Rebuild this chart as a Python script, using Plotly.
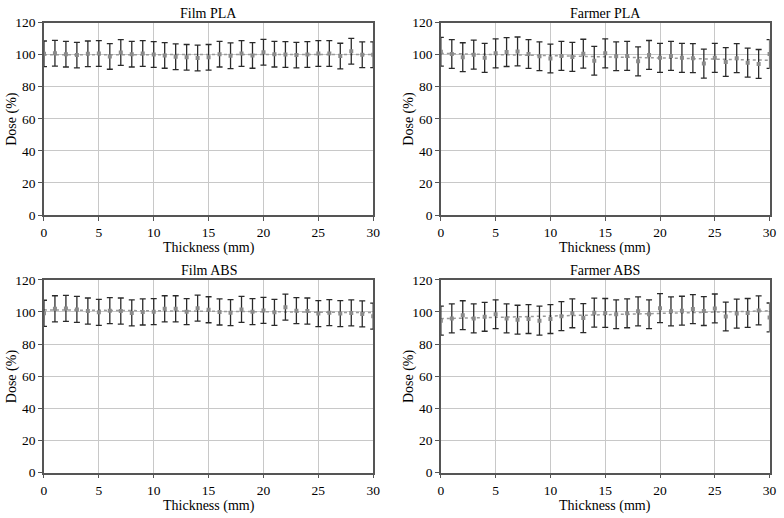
import numpy as np
import plotly.graph_objects as go

thickness = list(range(0, 31))

film_pla = [100.5, 100.9, 100.3, 99.7, 100.5, 100.7, 98.9, 101.3, 100.3, 100.7, 100.1,
            99.5, 98.7, 98.3, 97.9, 98.3, 100.3, 99.3, 100.7, 99.5, 101.5,
            100.3, 100.1, 99.7, 100.1, 100.7, 100.7, 99.1, 102.1, 99.9, 99.9]
film_pla_err = [8.0] * 31

farmer_pla = [101.8, 100.4, 98.4, 100.0, 98.0, 100.8, 101.6, 102.0, 100.4, 99.0, 97.6,
              99.2, 98.6, 100.6, 96.2, 100.8, 99.0, 99.2, 95.8, 99.8, 98.0,
              99.2, 98.0, 97.8, 94.4, 98.0, 95.4, 97.8, 95.0, 94.2, 100.4]
farmer_pla_err = [9.0] * 31

film_abs = [99.2, 102.0, 102.2, 101.6, 100.6, 99.8, 100.8, 100.6, 99.4, 100.0, 100.2,
            102.0, 102.0, 100.2, 102.4, 101.4, 100.0, 99.6, 101.6, 100.2, 101.0,
            99.8, 103.0, 100.8, 100.6, 99.0, 99.6, 99.0, 99.4, 98.8, 97.4]
film_abs_err = [8.1] * 31

farmer_abs = [94.6, 96.0, 98.0, 96.0, 97.0, 98.6, 96.0, 95.2, 95.6, 94.6, 95.6,
              97.4, 99.2, 96.2, 99.6, 99.4, 98.6, 99.2, 100.4, 98.6, 102.4,
              100.4, 100.8, 101.8, 100.6, 102.2, 97.2, 99.0, 99.4, 101.0, 96.6]
farmer_abs_err = [9.0] * 31

panel_titles = ["Film PLA", "Farmer PLA", "Film ABS", "Farmer ABS"]
x_ticks = [0, 5, 10, 15, 20, 25, 30]
y_ticks = [0, 20, 40, 60, 80, 100, 120]

panels = [
    (film_pla, film_pla_err),
    (farmer_pla, farmer_pla_err),
    (film_abs, film_abs_err),
    (farmer_abs, farmer_abs_err),
]

W, H = 784, 518
xdom = [[41.5 / W, 375 / W], [443.5 / W, 776.5 / W]]
ydom = [[1 - 214.3 / H, 1 - 16 / H], [1 - 479.5 / H, 1 - 281 / H]]

FONT = "Liberation Serif, DejaVu Serif, serif"
fig = go.Figure()
layout = dict(
    width=W, height=H, margin=dict(l=0, r=0, t=0, b=0),
    paper_bgcolor="white", plot_bgcolor="white", showlegend=False,
    font=dict(family=FONT, size=14, color="black"),
)
annotations = []
for i, (vals, errs) in enumerate(panels):
    r, c = divmod(i, 2)
    n = i + 1
    xa = "x" if n == 1 else f"x{n}"
    ya = "y" if n == 1 else f"y{n}"
    coef = np.polyfit(thickness, vals, 1)
    trend = np.polyval(coef, [0, 30])
    fig.add_trace(go.Scatter(
        x=[0, 30], y=list(trend), mode="lines", xaxis=xa, yaxis=ya,
        line=dict(color="#9a9a9a", width=1.5, dash="dot"), hoverinfo="skip"))
    fig.add_trace(go.Scatter(
        x=thickness, y=vals, mode="markers", xaxis=xa, yaxis=ya,
        marker=dict(symbol="square", size=4, color="#8a8a8a"),
        error_y=dict(type="data", array=errs, visible=True, color="#2a2a2a",
                     thickness=1.3, width=3)))
    axkw = dict(showline=True, linecolor="#555555", linewidth=1.5, mirror=True,
                ticks="outside", ticklen=4, tickcolor="#555555",
                showgrid=True, gridcolor="#c8c8c8", gridwidth=1, zeroline=False,
                tickfont=dict(family=FONT, size=13.5, color="black"))
    layout[f"xaxis{'' if n == 1 else n}"] = dict(
        domain=xdom[c], anchor=ya, range=[0, 30], tickvals=x_ticks, **axkw)
    layout[f"yaxis{'' if n == 1 else n}"] = dict(
        domain=ydom[r], anchor=xa, range=[0, 120], tickvals=y_ticks, **axkw)
    xm = (xdom[c][0] + xdom[c][1]) / 2
    annotations.append(dict(text=panel_titles[i], x=xm, y=ydom[r][1], xref="paper", yref="paper",
                            xanchor="center", yanchor="bottom", yshift=0, showarrow=False,
                            font=dict(family=FONT, size=14)))
    annotations.append(dict(text="Thickness (mm)", x=xm, y=ydom[r][0], xref="paper", yref="paper",
                            xanchor="center", yanchor="top", yshift=-23, showarrow=False,
                            font=dict(family=FONT, size=14)))
    annotations.append(dict(text="Dose (%)", x=xdom[c][0], y=(ydom[r][0] + ydom[r][1]) / 2,
                            xref="paper", yref="paper", xanchor="center", yanchor="middle",
                            xshift=-32, textangle=-90, showarrow=False,
                            font=dict(family=FONT, size=14)))
layout["annotations"] = annotations
fig.update_layout(**layout)
fig.write_html("out.html", config={"displayModeBar": False},
               post_script="document.body.style.margin='0';document.body.style.overflow='hidden';")
